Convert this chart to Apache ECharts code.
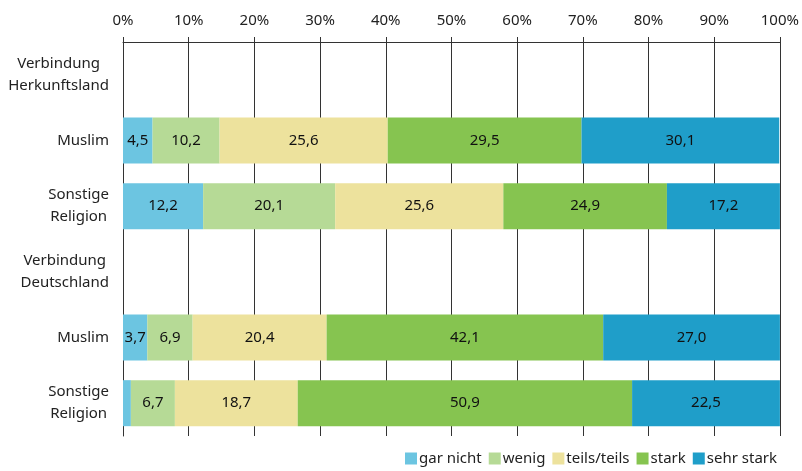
<!DOCTYPE html>
<html><head><meta charset="utf-8">
<script src="https://cdn.jsdelivr.net/npm/echarts@6/dist/echarts.min.js"></script>
<style>html,body{margin:0;padding:0;background:#fff}#c{width:802px;height:471px}</style>
</head><body><div id="c"></div>
<script>
const categories = ['Verbindung\nHerkunftsland', 'Muslim', 'Sonstige\nReligion', 'Verbindung\nDeutschland', 'Muslim ', 'Sonstige\nReligion '];
const seriesNames = ['gar nicht', 'wenig', 'teils/teils', 'stark', 'sehr stark'];
const garNicht = ['-', 4.5, 12.2, '-', 3.7, 1.2];
const wenig = ['-', 10.2, 20.1, '-', 6.9, 6.7];
const teils = ['-', 25.6, 25.6, '-', 20.4, 18.7];
const stark = ['-', 29.5, 24.9, '-', 42.1, 50.9];
const sehrStark = ['-', 30.1, 17.2, '-', 27.0, 22.5];
const tickLabels = ['0%','10%','20%','30%','40%','50%','60%','70%','80%','90%','100%'];
const colors = ['#6cc5e1', '#b6da96', '#ede29d', '#86c450', '#1f9ec9'];
const allData = [garNicht, wenig, teils, stark, sehrStark];

const font = 'Noto Sans';
const chart = echarts.init(document.getElementById('c'));
chart.setOption({
  animation: false,
  textStyle: { fontFamily: font },
  grid: { left: 123, right: 22, top: 42, bottom: 35 },
  legend: {
    right: 20, bottom: 0, itemWidth: 12, itemHeight: 12, itemGap: 7,
    icon: 'rect',
    textStyle: { fontFamily: font, fontSize: 15, color: '#222', padding: [0,0,0,-3] },
    data: seriesNames
  },
  xAxis: {
    type: 'value', position: 'top', min: 0, max: 100, interval: 10,
    axisLine: { show: true, lineStyle: { color: '#333', width: 1 } },
    axisTick: { show: true, length: 5, lineStyle: { color: '#333' } },
    axisLabel: { fontFamily: font, fontSize: 15, color: '#222', margin: 14,
      formatter: v => tickLabels[Math.round(v / 10)] },
    splitLine: { show: true, lineStyle: { color: '#333', width: 1 } }
  },
  yAxis: {
    type: 'category', inverse: true, data: categories,
    axisLine: { show: true, lineStyle: { color: '#333' } },
    axisTick: { show: false },
    axisLabel: { fontFamily: font, fontSize: 15, color: '#222', margin: 14, lineHeight: 22,
      formatter: v => v.trim().split('\n').map(l => '{c|' + l + '}').join('\n'),
      rich: { c: { align: 'center', fontFamily: font, fontSize: 15, color: '#222', lineHeight: 22 } } }
  },
  series: seriesNames.map((n, i) => ({
    name: n, type: 'bar', stack: 'a', barWidth: 46,
    itemStyle: { color: colors[i] },
    label: {
      show: true, position: 'inside', fontFamily: font, fontSize: 15, color: '#111',
      formatter: p => (typeof p.value === 'number' && p.value >= 2) ? p.value.toFixed(1).replace('.', ',') : ''
    },
    data: allData[i]
  }))
});
</script></body></html>
